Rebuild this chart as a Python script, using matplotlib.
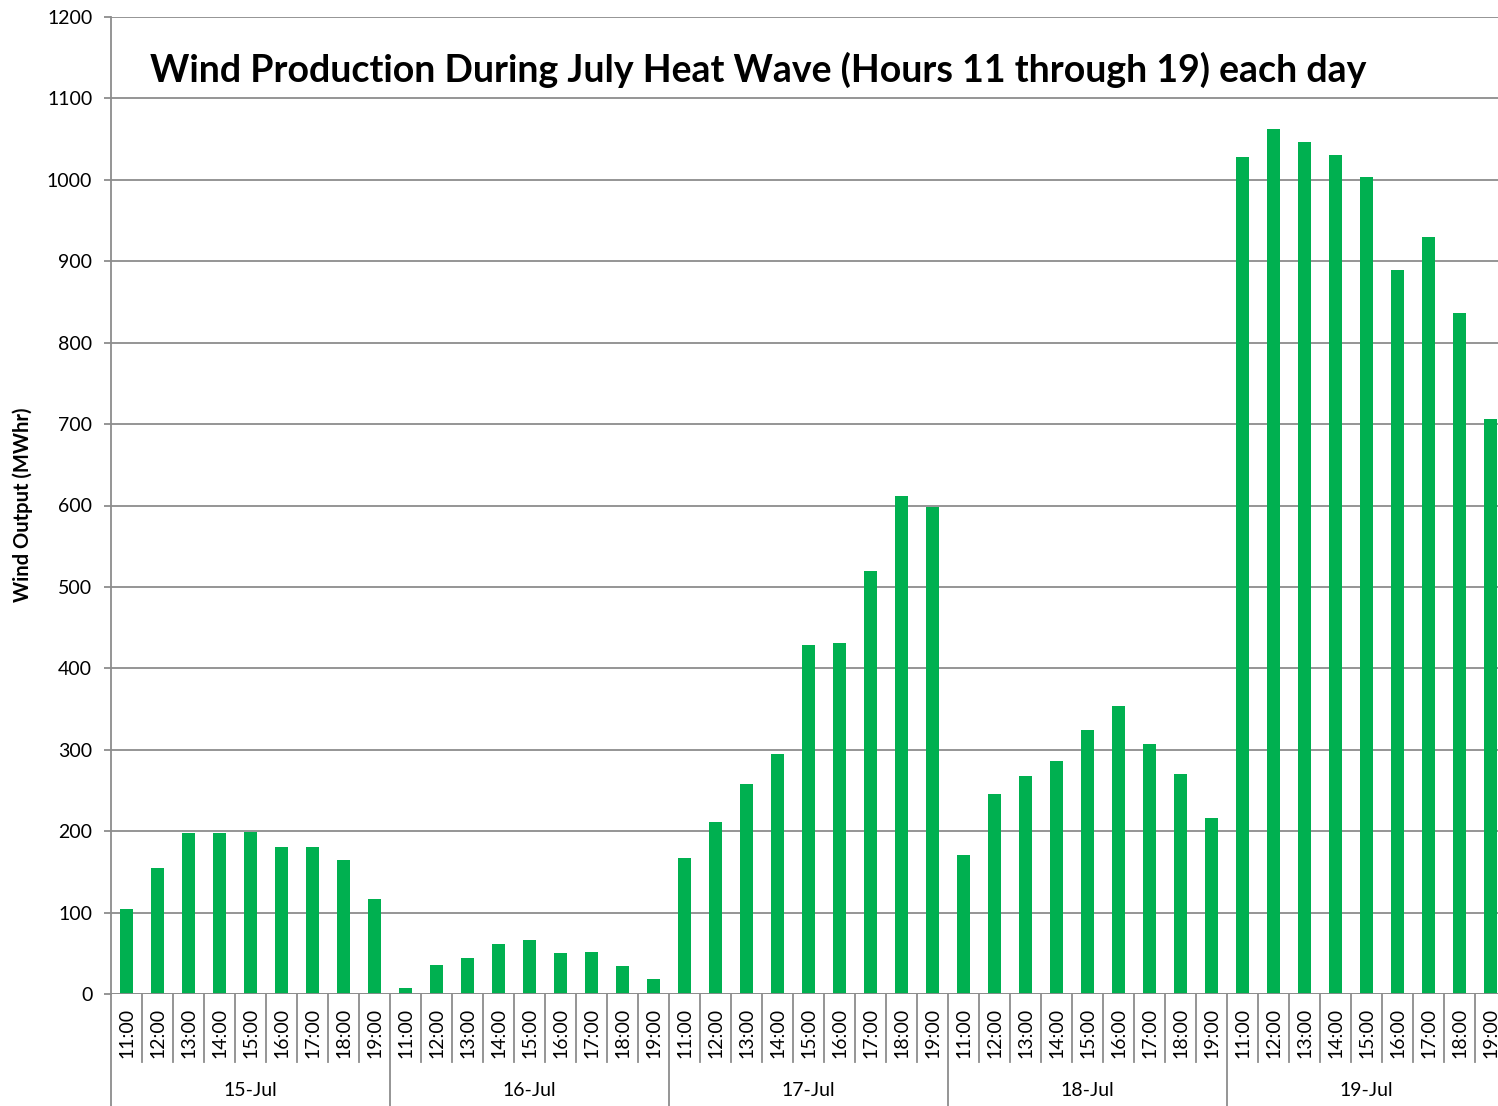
import matplotlib
matplotlib.use("Agg")
import matplotlib.pyplot as plt
import matplotlib.transforms as mtransforms

days = ["15-Jul", "16-Jul", "17-Jul", "18-Jul", "19-Jul"]
hours = ["11:00", "12:00", "13:00", "14:00", "15:00", "16:00", "17:00", "18:00", "19:00"]

jul15 = [105, 155, 198, 198, 199, 180, 180, 164, 117]
jul16 = [7, 36, 44, 62, 66, 50, 52, 34, 18]
jul17 = [167, 211, 258, 295, 429, 431, 520, 612, 598]
jul18 = [171, 246, 268, 286, 324, 354, 307, 270, 216]
jul19 = [1028, 1062, 1046, 1030, 1003, 889, 930, 836, 706]

values = jul15 + jul16 + jul17 + jul18 + jul19
labels = hours * len(days)

W, H = 1498, 1106
fig = plt.figure(figsize=(W / 100, H / 100), dpi=100)
plt.rcParams["font.family"] = ["Lato", "DejaVu Sans"]

x0, x_end = 111, 1506  # plot area spans past the right edge (clipped in source)
y_top, y_zero = 17, 994
ax = fig.add_axes([x0 / W, (H - y_zero) / H, (W - x0) / W, (y_zero - y_top) / H])

n = len(values)
cat_px = (x_end - x0) / n
xs = list(range(n))
ax.bar(xs, values, width=0.4, color="#00B050", zorder=3)

ax.set_xlim(-0.5, -0.5 + (W - x0) / cat_px)
ax.set_ylim(0, 1200)
ax.set_yticks(range(0, 1201, 100))
ax.yaxis.grid(True, color="#8c8c8c", linewidth=1.3)
ax.set_axisbelow(True)
for s in ["top", "right", "bottom"]:
    ax.spines[s].set_visible(False)
ax.spines["left"].set_color("#8c8c8c")
ax.spines["left"].set_linewidth(1.3)
ax.tick_params(axis="y", length=5, color="#8c8c8c", width=1.3, labelsize=14, pad=8.5)

ax.set_xticks(xs)
ax.set_xticklabels(labels, rotation=90, fontsize=14, va="top")
ax.tick_params(axis="x", length=0, pad=10)

ax.axhline(0, color="#8c8c8c", linewidth=1.3, zorder=4)

# category separators below the axis
trans = mtransforms.blended_transform_factory(ax.transData, ax.transAxes)
span = y_zero - y_top
inner = -(1062 - y_zero) / span
outer = -(1106 - y_zero) / span
for i in range(n + 1):
    b = i - 0.5
    bottom = outer if i % len(hours) == 0 else inner
    ax.plot([b, b], [0, bottom], transform=trans, color="#8c8c8c",
            linewidth=1.3, clip_on=False)
for d, day in enumerate(days):
    cx = d * len(hours) + (len(hours) - 1) / 2
    ax.text(cx, -(1091 - y_zero) / span, day, transform=trans,
            ha="center", va="center", fontsize=14)

ax.text((150 - x0) / (W - x0), (y_zero - 70) / span,
        "Wind Production During July Heat Wave (Hours 11 through 19) each day",
        transform=ax.transAxes, ha="left", va="center", fontsize=27, fontweight="bold")

fig.text(23 / W, 1 - 505 / H, "Wind Output (MWhr)", rotation=90,
         ha="center", va="center", fontsize=14.5, fontweight="bold")

fig.savefig("out.png", dpi=100)
